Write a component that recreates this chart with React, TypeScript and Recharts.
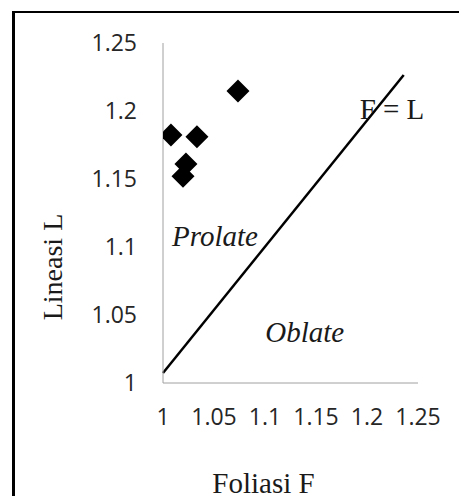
import {
  ReferenceDot,
  ReferenceLine,
  Scatter,
  ScatterChart,
  XAxis,
  YAxis,
} from "recharts";

// Foliasi F / Lineasi L per sample
const foliasi = [1.0735, 1.0078, 1.0333, 1.0225, 1.0196];
const lineasi = [1.2147, 1.1824, 1.181, 1.161, 1.152];

// end points of the F = L reference line, as drawn in the source
const lineF = [1, 1.236];
const lineL = [1.0074, 1.2265];

const axisTicks = [1, 1.05, 1.1, 1.15, 1.2, 1.25];

// region labels: [text, F, L, italic]
const regionLabels: [string, number, number, boolean][] = [
  ["Prolate", 1.051, 1.108, true],
  ["Oblate", 1.139, 1.0375, true],
  ["F = L", 1.2245, 1.202, false],
];

const points = foliasi.map((f, i) => ({ f, l: lineasi[i] }));

const serif = "'Liberation Serif', 'Times New Roman', serif";
const sans = "'Open Sans', 'Liberation Sans', sans-serif";

function Diamond(props: any) {
  const { cx, cy } = props;
  const r = 11.5;
  return (
    <path
      d={`M${cx},${cy - r}L${cx + r},${cy}L${cx},${cy + r}L${cx - r},${cy}Z`}
      fill="#000"
    />
  );
}

export default function App() {
  return (
    <div
      style={{
        position: "relative",
        width: 467,
        height: 504,
        margin: -8,
        overflow: "hidden",
        background: "#fff",
      }}
    >
      <div
        style={{
          position: "absolute",
          left: 12,
          top: 11,
          width: 600,
          height: 600,
          borderLeft: "3px solid #000",
          borderTop: "2px solid #000",
        }}
      />
      <div style={{ position: "absolute", left: 0, top: 0 }}>
        <ScatterChart
          width={467}
          height={504}
          margin={{ top: 43, right: 49, bottom: 0, left: 0 }}
        >
          <XAxis
            type="number"
            dataKey="f"
            domain={[1, 1.25]}
            ticks={axisTicks}
            allowDataOverflow
            height={121}
            tickLine={false}
            tickSize={6}
            tickMargin={20}
            axisLine={{ stroke: "#a0a0a0", strokeWidth: 1 }}
            tick={{ fill: "#262626", fontSize: 23, fontFamily: sans }}
            label={{
              content: ({ viewBox }: any) => (
                <text
                  x={viewBox.x + viewBox.width / 2 - 27}
                  y={viewBox.y + viewBox.height - 11}
                  textAnchor="middle"
                  fontFamily={serif}
                  fontSize={29}
                  fill="#1a1a1a"
                >
                  Foliasi F
                </text>
              ),
            }}
          />
          <YAxis
            type="number"
            dataKey="l"
            domain={[1, 1.25]}
            ticks={axisTicks}
            allowDataOverflow
            width={163}
            tickLine={false}
            tickSize={6}
            tickMargin={20}
            axisLine={{ stroke: "#a0a0a0", strokeWidth: 1 }}
            tick={{ fill: "#262626", fontSize: 23, fontFamily: sans }}
            label={{
              content: ({ viewBox }: any) => {
                const x = viewBox.x + 52;
                const y = viewBox.y + viewBox.height / 2 + 54;
                return (
                  <text
                    x={x}
                    y={y}
                    transform={`rotate(-90 ${x} ${y})`}
                    textAnchor="middle"
                    dominantBaseline="central"
                    fontFamily={serif}
                    fontSize={28}
                    fill="#1a1a1a"
                  >
                    Lineasi L
                  </text>
                );
              },
            }}
          />
          <ReferenceLine
            segment={[
              { x: lineF[0], y: lineL[0] },
              { x: lineF[1], y: lineL[1] },
            ]}
            stroke="#000"
            strokeWidth={2.5}
            ifOverflow="visible"
          />
          {regionLabels.map(([text, f, l, italic]) => (
            <ReferenceDot
              key={text}
              x={f}
              y={l}
              r={0}
              fill="none"
              stroke="none"
              ifOverflow="visible"
              label={{
                value: text,
                position: "center",
                fontFamily: serif,
                fontSize: 29,
                fontStyle: italic ? "italic" : "normal",
                fill: "#1a1a1a",
              }}
            />
          ))}
          <Scatter data={points} shape={Diamond} isAnimationActive={false} />
        </ScatterChart>
      </div>
    </div>
  );
}
